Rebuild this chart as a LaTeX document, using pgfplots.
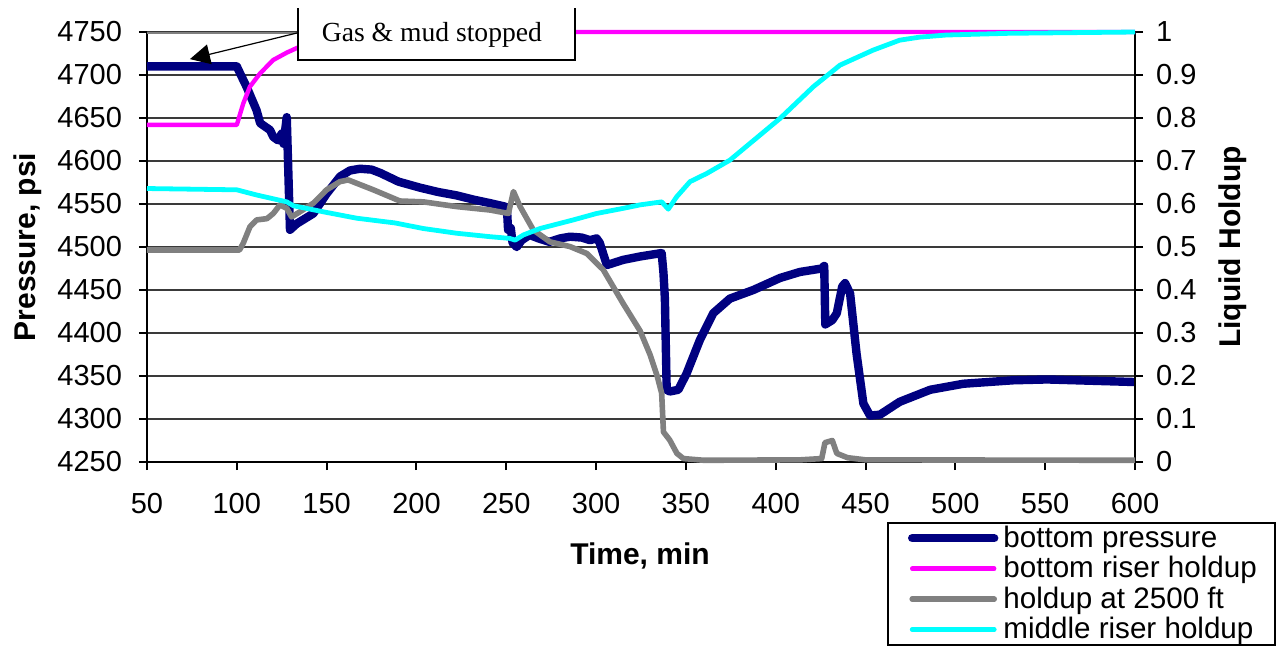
\documentclass[border=0pt]{standalone}
\usepackage{pgfplots}
\pgfplotsset{compat=1.18}
\usepackage{fontspec}
\setmainfont{Liberation Sans}
\newfontfamily\serifnote{Liberation Serif}
\usetikzlibrary{arrows.meta}

\definecolor{presblue}{HTML}{000080}
\definecolor{botmag}{HTML}{FF00FF}
\definecolor{midcyan}{HTML}{00FFFF}
\definecolor{holdgray}{HTML}{808080}
\definecolor{gridgray}{HTML}{3A3A3A}

\pgfplotsset{
  common/.style={
    scale only axis, width=494pt, height=215pt,
    at={(0,0)}, anchor=south west,
    xmin=50, xmax=600,
    tick align=outside, major tick length=4pt,
    tick style={black, line width=1pt},
    axis line style={black, line width=1.2pt},
    ticklabel style={font=\fontsize{14.5}{16}\selectfont},
    /pgf/number format/assume math mode=true,
    /pgf/number format/1000 sep={},
    label style={font=\bfseries\fontsize{15}{17}\selectfont},
  }
}

\begin{document}
\begin{tikzpicture}
\useasboundingbox (-73.5pt,-91.5pt) rectangle (564.5pt,231pt);

% pressure (left axis)
\begin{axis}[common,
  axis x line*=bottom, axis y line*=left,
  xtick={50,100,...,600},
  xticklabel style={yshift=-8pt},
  yticklabel style={xshift=-5pt},
  ymin=4250, ymax=4750, ytick={4250,4300,...,4750},
  ymajorgrids, grid style={gridgray, line width=1pt},
  xlabel={Time, min}, ylabel={Pressure, psi},
  x label style={at={(axis description cs:0.499,-0.2186)}, anchor=center},
  y label style={at={(axis description cs:-0.1204,0.5)}, anchor=center},
]
\draw[holdgray, line width=2pt] (axis cs:50,4750) -- (axis cs:600,4750);
\addplot[presblue, line width=4.2pt, line join=round] coordinates {
 (50,4710) (100,4710) (101.8,4702) (105.5,4686) (111,4659) (113,4644)
 (118.5,4636) (120.3,4628) (123,4624) (125,4632) (126,4620) (127.8,4651)
 (129.6,4520) (133.3,4527) (142.6,4539) (150,4562) (157.5,4582) (163,4589)
 (168.6,4591) (175,4590) (180,4586) (190,4576) (202,4569) (212,4564)
 (222.4,4560) (232,4555) (241,4551) (249.3,4547) (250.5,4540) (251,4520)
 (252.5,4522) (253.5,4505) (255.8,4500) (258.6,4508) (263,4514) (268,4510)
 (274,4506) (280,4510) (285.5,4512) (292,4511) (296.6,4508) (300.3,4510)
 (302,4505) (306,4479) (315,4485) (324.5,4489) (336.5,4493) (337.5,4470)
 (338.3,4440) (339.3,4334) (341,4332) (345.8,4334) (350.4,4353) (357.8,4392)
 (365.2,4423) (374.5,4440) (387.5,4450) (402.4,4464) (413.5,4471)
 (425.6,4475) (427,4478) (427.6,4410) (431.5,4415) (434,4423) (437,4454)
 (438.6,4458) (441.4,4446) (445,4376) (448.8,4318) (452.5,4304) (458,4305)
 (469,4320) (486,4334) (504.5,4341) (532,4345) (551,4346) (600,4343)
};
\end{axis}

% liquid holdup (right axis)
\begin{axis}[common,
  axis x line=none, axis y line*=right,
  ymin=0, ymax=1,
  ytick={0,0.1,0.2,0.3,0.4,0.5,0.6,0.7,0.8,0.9,1},
  yticklabels={0,0.1,0.2,0.3,0.4,0.5,0.6,0.7,0.8,0.9,1},
  yticklabel style={xshift=3pt},
  ylabel={Liquid Holdup},
  y label style={at={(axis description cs:1.099,0.5)}, anchor=center},
  clip=false,
  legend cell align=left,
  legend image code/.code={\draw[#1, line cap=round] (2pt,0pt) -- (43pt,0pt);},
  legend style={at={(axis description cs:0.749,-0.1395)}, anchor=north west,
    draw=black, line width=1pt, fill=white,
    inner xsep=10pt, inner ysep=1.5pt,
    font=\fontsize{14.8}{14.5}\selectfont,
    nodes={inner sep=0pt}, row sep=3pt,
    /tikz/every odd column/.append style={column sep=2.5pt}},
]
\addlegendimage{presblue, line width=4.2pt}
\addlegendentry{\makebox[126pt][l]{bottom pressure}}
\addplot[botmag, line width=2.2pt, line join=round] coordinates {
 (50,0.784) (100,0.784) (103.6,0.834) (107.3,0.873) (113,0.904) (120.3,0.935)
 (127.8,0.952) (133,0.962) (140,0.975) (150,0.99) (160,0.998) (170,1) (600,1)
};
\addlegendentry{\makebox[126pt][l]{bottom riser holdup}}
\addplot[holdgray, line width=2.8pt, line join=round] coordinates {
 (50,0.493) (101.5,0.493) (103.6,0.509) (107.3,0.547) (111,0.563) (116.8,0.566)
 (120.3,0.578) (124,0.598) (127.8,0.59) (130.5,0.57) (135.2,0.582)
 (142.6,0.602) (150,0.633) (157.4,0.652) (162,0.656) (176,0.633)
 (190.8,0.607) (203.8,0.605) (222.4,0.594) (241,0.586) (251.2,0.578)
 (254,0.629) (257.7,0.594) (265,0.54) (274.3,0.512) (285.5,0.501)
 (294.8,0.485) (304,0.447) (315,0.369) (324.5,0.305) (330,0.25) (334,0.2)
 (336.5,0.16) (337.5,0.07) (341,0.051) (345,0.02) (348.6,0.008) (360,0.004)
 (413.5,0.005) (425.6,0.008) (427.4,0.045) (431.5,0.05) (434,0.02)
 (440,0.01) (450,0.005) (600,0.004)
};
\addlegendentry{\makebox[126pt][l]{holdup at 2500 ft}}
\addplot[midcyan, line width=2.4pt, line join=round] coordinates {
 (50,0.636) (100,0.633) (111,0.621) (127.8,0.605) (131.5,0.596) (148,0.582)
 (166.7,0.567) (188,0.556) (203.8,0.543) (222.4,0.532) (241,0.524)
 (252,0.52) (254.9,0.516) (259.5,0.528) (268.8,0.543) (287.3,0.563)
 (300.3,0.578) (315.2,0.59) (324.5,0.598) (336.5,0.605) (340.2,0.588)
 (344.9,0.617) (352.3,0.652) (361.6,0.671) (374.5,0.702) (385.7,0.741)
 (402.4,0.799) (421,0.873) (435.8,0.923) (454.3,0.958) (469,0.981)
 (480,0.988) (495,0.993) (530,0.997) (600,1.0)
};
\addlegendentry{\makebox[126pt][l]{middle riser holdup}}

% callout
\draw[black, line width=0.6pt, -{Triangle[length=10pt, width=10pt]}]
  (axis cs:133.5,0.9977) -- (axis cs:73.9,0.937);
\path[fill=white] (axis cs:134.06,1.0558) rectangle (axis cs:288.3,0.9349);
\draw[black, line width=0.9pt]
  (axis cs:134.06,1.0558) -- (axis cs:134.06,0.9349)
  -- (axis cs:288.3,0.9349) -- (axis cs:288.3,1.0558);
\node[font=\serifnote\fontsize{13.8}{15}\selectfont] at (axis cs:208.6,0.993)
  {Gas \& mud stopped};
\end{axis}
\end{tikzpicture}
\end{document}
